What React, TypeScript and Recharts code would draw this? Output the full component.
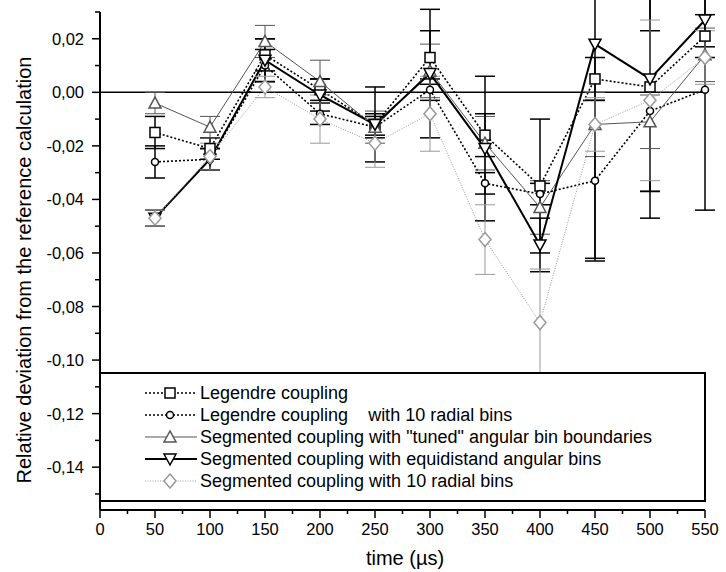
import React from 'react';
import { LineChart, Line, XAxis, YAxis, ErrorBar, ReferenceLine } from 'recharts';

const times = [50, 100, 150, 200, 250, 300, 350, 400, 450, 500, 550];

const legendre = [-0.015, -0.021, 0.014, 0.001, -0.012, 0.013, -0.016, -0.035, 0.005, 0.002, 0.021];
const legendreRadial = [-0.026, -0.025, 0.01, -0.008, -0.013, 0.001, -0.034, -0.038, -0.033, -0.007, 0.001];
const tuned = [-0.004, -0.013, 0.019, 0.004, -0.013, 0.008, -0.019, -0.043, -0.012, -0.011, 0.014];
const equidistant = [-0.047, -0.025, 0.012, -0.001, -0.012, 0.007, -0.021, -0.057, 0.018, 0.005, 0.027];
const segRadial = [-0.047, -0.024, 0.002, -0.01, -0.019, -0.008, -0.055, -0.086, -0.012, -0.003, 0.013];

const legendreErr = [0.006, 0.004, 0.006, 0.004, 0.004, 0.01, 0.008, 0.025, 0.008, 0.049, 0.008];
const legendreRadialErr = [0.006, 0.004, 0.006, 0.004, 0.004, 0.004, 0.004, 0.004, 0.03, 0.03, 0.045];
const tunedErr = [0.004, 0.004, 0.006, 0.008, 0.006, 0.01, 0.01, 0.01, 0.012, 0.01, 0.01];
const equidistantErr = [0.003, 0.004, 0.008, 0.006, 0.014, 0.024, 0.027, 0.01, 0.08, 0.042, 0.01];
const segRadialErr = [0.003, 0.005, 0.004, 0.009, 0.009, 0.014, 0.013, 0.02, 0.01, 0.03, 0.01];

const xTicks = [0, 25, 50, 75, 100, 125, 150, 175, 200, 225, 250, 275, 300, 325, 350, 375, 400, 425, 450, 475, 500, 525, 550];
const yTicks = [0.03, 0.02, 0.01, 0, -0.01, -0.02, -0.03, -0.04, -0.05, -0.06, -0.07, -0.08, -0.09, -0.1, -0.11, -0.12, -0.13, -0.14, -0.15];

const legendLabels = [
  'Legendre coupling',
  'Legendre coupling    with 10 radial bins',
  'Segmented coupling with "tuned" angular bin boundaries',
  'Segmented coupling with equidistand angular bins',
  'Segmented coupling with 10 radial bins',
];

const data = times.map((t, i) => ({
  t,
  leg: legendre[i],
  legE: legendreErr[i],
  legR: legendreRadial[i],
  legRE: legendreRadialErr[i],
  tun: tuned[i],
  tunE: tunedErr[i],
  equ: equidistant[i],
  equE: equidistantErr[i],
  seg: segRadial[i],
  segE: segRadialErr[i],
}));

const FONT = 'Arial, "Liberation Sans", sans-serif';

type Shape = 'square' | 'circle' | 'up' | 'down' | 'diamond';

function Marker({ cx, cy, shape, color }: { cx: number; cy: number; shape: Shape; color: string }) {
  const common = { fill: '#fff', stroke: color, strokeWidth: 1.5 };
  if (shape === 'square') return <rect x={cx - 5} y={cy - 5} width={10} height={10} {...common} />;
  if (shape === 'circle') return <circle cx={cx} cy={cy} r={3.5} {...common} />;
  if (shape === 'up') return <polygon points={`${cx},${cy - 6} ${cx - 6},${cy + 5} ${cx + 6},${cy + 5}`} {...common} />;
  if (shape === 'down') return <polygon points={`${cx},${cy + 6} ${cx - 6},${cy - 5} ${cx + 6},${cy - 5}`} {...common} />;
  return <polygon points={`${cx},${cy - 7} ${cx + 6},${cy} ${cx},${cy + 7} ${cx - 6},${cy}`} {...common} />;
}

const series = [
  { key: 'leg', err: 'legE', shape: 'square' as Shape, color: '#000', width: 1.6, dash: '2 2' },
  { key: 'legR', err: 'legRE', shape: 'circle' as Shape, color: '#000', width: 1.6, dash: '2 2' },
  { key: 'tun', err: 'tunE', shape: 'up' as Shape, color: '#555', width: 1, dash: undefined },
  { key: 'equ', err: 'equE', shape: 'down' as Shape, color: '#000', width: 2, dash: undefined },
  { key: 'seg', err: 'segE', shape: 'diamond' as Shape, color: '#999', width: 1, dash: '1 1.5' },
];

// plot box: x 100..705, y 12..510
const YTick = (props: any) => {
  const { y, payload } = props;
  const v = payload.value;
  const hundredths = Math.round(v * 100);
  const major = hundredths % 2 === 0;
  const showLabel = major && hundredths <= 2;
  return (
    <g>
      <line x1={major ? 92 : 95} x2={100} y1={y} y2={y} stroke="#000" strokeWidth={1.5} />
      {showLabel && (
        <text x={84} y={y + 6} textAnchor="end" fontSize={16.5} fontFamily={FONT} fill="#000">
          {v.toFixed(2).replace('.', ',')}
        </text>
      )}
    </g>
  );
};

const XTick = (props: any) => {
  const { x, payload } = props;
  const major = payload.value % 50 === 0;
  return (
    <g>
      <line x1={x} x2={x} y1={510} y2={major ? 518 : 514} stroke="#000" strokeWidth={1.5} />
      {major && (
        <text x={x} y={535} textAnchor="middle" fontSize={16.5} fontFamily={FONT} fill="#000">
          {payload.value}
        </text>
      )}
    </g>
  );
};

function LegendIcon({ s }: { s: (typeof series)[number] }) {
  return (
    <svg width={52} height={16} style={{ display: 'block' }}>
      <line x1={0} x2={52} y1={8} y2={8} stroke={s.color} strokeWidth={s.width} strokeDasharray={s.dash} />
      <Marker cx={25} cy={8} shape={s.shape} color={s.color} />
    </svg>
  );
}

export default function App() {
  return (
    <div style={{ position: 'absolute', left: 0, top: 0, width: 726, height: 572, background: '#fff' }}>
      <LineChart width={726} height={572} data={data} margin={{ top: 12, right: 21, left: 0, bottom: 0 }}>
        <XAxis
          dataKey="t"
          type="number"
          domain={[0, 550]}
          ticks={xTicks}
          interval={0}
          tick={<XTick />}
          tickLine={false}
          axisLine={{ stroke: '#000', strokeWidth: 2 }}
          height={62}
          label={() => (
            <text x={405} y={565} textAnchor="middle" fontSize={20} fontFamily={FONT} fill="#000">
              time (µs)
            </text>
          )}
        />
        <YAxis
          type="number"
          domain={[-0.156, 0.03]}
          allowDataOverflow
          ticks={yTicks}
          interval={0}
          tick={<YTick />}
          tickLine={false}
          axisLine={{ stroke: '#000', strokeWidth: 2 }}
          width={100}
          label={() => (
            <text
              x={31}
              y={270}
              transform="rotate(-90 31 270)"
              textAnchor="middle"
              fontSize={20}
              fontFamily={FONT}
              fill="#000"
            >
              Relative deviation from the reference calculation
            </text>
          )}
        />
        <ReferenceLine y={0} stroke="#000" strokeWidth={1.5} />
        {series.map((s) => (
          <Line
            key={s.key}
            dataKey={s.key}
            stroke={s.color}
            strokeWidth={s.width}
            strokeDasharray={s.dash}
            isAnimationActive={false}
            dot={(p: any) => <Marker key={`${s.key}-${p.index}`} cx={p.cx} cy={p.cy} shape={s.shape} color={s.color} />}
            activeDot={false}
          >
            <ErrorBar dataKey={s.err} width={10} stroke={s.color} strokeWidth={s.width > 1.5 ? 1.5 : 1} direction="y" />
          </Line>
        ))}
      </LineChart>
      <div
        style={{
          position: 'absolute',
          left: 99,
          top: 372,
          width: 607,
          height: 130,
          border: '2px solid #000',
          background: '#fff',
          fontFamily: FONT,
          fontSize: 18,
          paddingTop: 8,
          boxSizing: 'border-box',
        }}
      >
        {series.map((s, i) => (
          <div key={s.key} style={{ display: 'flex', alignItems: 'center', height: 22, marginLeft: 44 }}>
            <LegendIcon s={s} />
            <span style={{ whiteSpace: 'pre', marginLeft: 3, color: '#000' }}>{legendLabels[i]}</span>
          </div>
        ))}
      </div>
    </div>
  );
}
